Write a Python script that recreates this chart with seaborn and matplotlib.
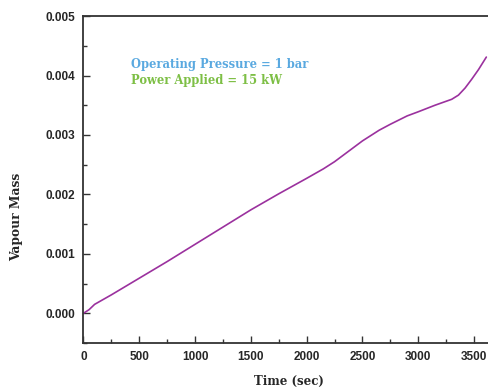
import matplotlib
matplotlib.use("Agg")
import matplotlib.pyplot as plt
import seaborn as sns
import pandas as pd
from matplotlib.ticker import MultipleLocator

time_sec = [0, 50, 100, 250, 500, 750, 1000, 1250, 1500, 1750, 2000, 2150, 2250, 2400, 2500, 2650, 2750, 2900, 3000, 3150, 3300, 3360, 3420, 3480, 3540, 3610]
vapour_mass = [0.0, 0.00006, 0.00015, 0.00031, 0.00059, 0.00087, 0.00116, 0.00145, 0.00174, 0.00201, 0.00227, 0.00243, 0.00255, 0.00276, 0.00290, 0.00308, 0.00318, 0.00332, 0.00339, 0.00350, 0.00360, 0.00367, 0.00379, 0.00394, 0.00410, 0.00431]

df = pd.DataFrame({"Time (sec)": time_sec, "Vapour Mass": vapour_mass})

sns.set_style("white")
fig = plt.figure(figsize=(4.88, 3.92), dpi=100)
ax = fig.add_axes([0.171, 0.125, 0.829, 0.834])
sns.lineplot(data=df, x="Time (sec)", y="Vapour Mass", ax=ax, color="#9b319e", linewidth=1.2)

ax.set_xlim(0, 3625)
ax.set_ylim(-0.0005, 0.005)
ax.xaxis.set_major_locator(MultipleLocator(500))
ax.xaxis.set_minor_locator(MultipleLocator(250))
ax.yaxis.set_major_locator(MultipleLocator(0.001))
ax.yaxis.set_minor_locator(MultipleLocator(0.0005))
ax.yaxis.set_major_formatter(matplotlib.ticker.FormatStrFormatter("%.3f"))

for s in ["left", "bottom", "top"]:
    ax.spines[s].set_color("#333333")
    ax.spines[s].set_linewidth(1.3)
ax.spines["right"].set_visible(False)

ax.tick_params(which="major", direction="in", length=5, width=1, color="#333333",
               labelsize=8.5, bottom=True, left=True, pad=6)
ax.tick_params(which="minor", direction="in", length=3, width=1, color="#333333", bottom=True, left=True)
for lab in ax.get_xticklabels() + ax.get_yticklabels():
    lab.set_fontweight("bold")
    lab.set_family("Liberation Sans")

ax.set_xlabel("Time (sec)", fontsize=8.5, fontweight="bold", family="DejaVu Serif")
ax.set_ylabel("Vapour Mass", fontsize=8.8, fontweight="bold", family="DejaVu Serif")
ax.xaxis.set_label_coords(0.509, -0.098)
ax.yaxis.set_label_coords(-0.148, 0.385)

ax.text(425, 0.00419, "Operating Pressure = 1 bar", color="#5aa9e0", fontsize=8.3,
        fontweight="bold", family="DejaVu Serif", va="center")
ax.text(425, 0.00392, "Power Applied = 15 kW", color="#7dbf45", fontsize=8.3,
        fontweight="bold", family="DejaVu Serif", va="center")

fig.savefig("out.png", dpi=100)
